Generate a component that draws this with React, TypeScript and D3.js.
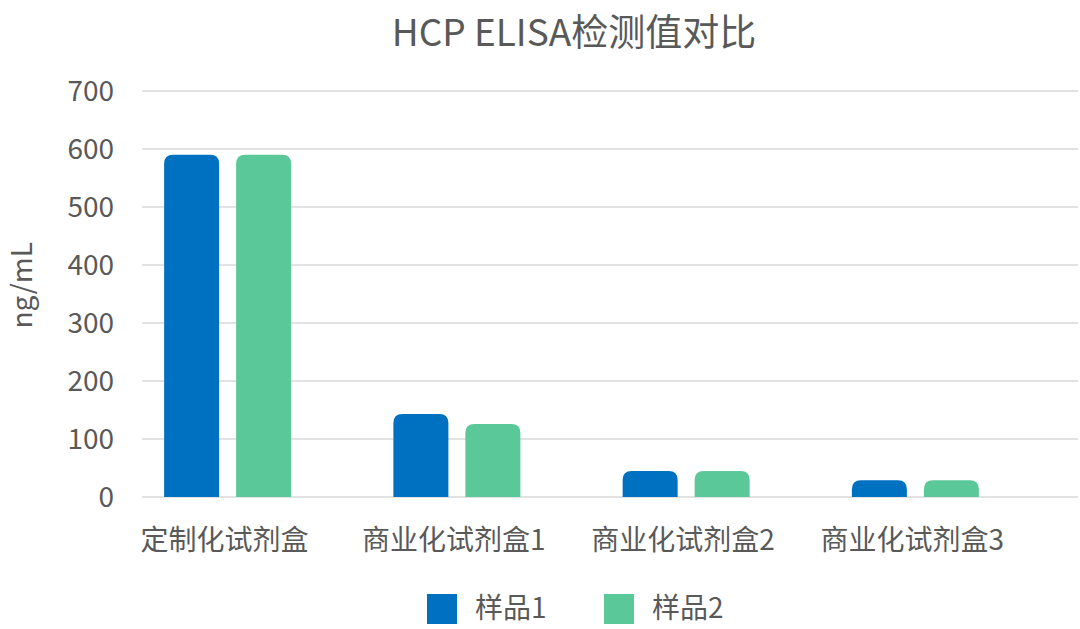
import React from "react";
import * as d3 from "d3";

const categories = ["定制化试剂盒", "商业化试剂盒1", "商业化试剂盒2", "商业化试剂盒3"];
const seriesNames = ["样品1", "样品2"];
const sample1 = [590, 143, 45, 29];
const sample2 = [590, 126, 45, 29];
const yTicks = [0, 100, 200, 300, 400, 500, 600, 700];
const colors = ["#0070C0", "#5BC89A"];

const W = 1080, H = 629;
const FONT = "'Noto Sans CJK SC', 'Noto Sans', sans-serif";
const TXT = "#595959";

function topRounded(x: number, y: number, w: number, h: number, r: number) {
  const rr = Math.min(r, h, w / 2);
  return `M${x},${y + h}V${y + rr}Q${x},${y} ${x + rr},${y}H${x + w - rr}Q${x + w},${y} ${x + w},${y + rr}V${y + h}Z`;
}

export default function App() {
  const y = d3.scaleLinear().domain([0, 700]).range([497, 91]);
  const x0 = d3.scaleBand().domain(categories).range([113, 1030]).paddingInner(0).paddingOuter(0);
  const barW = 55, gap = 17;
  const x1 = d3.scaleOrdinal<string, number>().domain(seriesNames).range([-(barW + gap / 2), gap / 2]);
  const data = [sample1, sample2];
  return (
    <svg width={W} height={H} style={{ position: "absolute", left: 0, top: 0, background: "#fff" }}>
      <text x={574} y={33} dy="0.35em" textAnchor="middle" fontFamily={FONT} fontSize={37} fill={TXT}>HCP ELISA检测值对比</text>
      {yTicks.map((t) => (
        <g key={t}>
          <line x1={142} x2={1078} y1={y(t)} y2={y(t)} stroke="#d9d9d9" strokeWidth={1.5} />
          <text x={114} y={y(t)} dy="0.35em" textAnchor="end" fontFamily={FONT} fontSize={28} fill={TXT}>{t}</text>
        </g>
      ))}
      <text transform={`translate(22,${y(365)}) rotate(-90)`} dy="0.35em" textAnchor="middle" fontFamily={FONT} fontSize={28} fill={TXT}>ng/mL</text>
      {categories.map((c, i) => {
        const cx = (x0(c) as number) + x0.bandwidth() / 2;
        return (
          <g key={c}>
            {seriesNames.map((s, j) => {
              const v = data[j][i];
              const bx = cx + (x1(s) as number);
              return <path key={s} d={topRounded(bx, y(v), barW, y(0) - y(v), 9)} fill={colors[j]} />;
            })}
            <text x={cx - 3} y={540} dy="0.35em" textAnchor="middle" fontFamily={FONT} fontSize={28} fill={TXT}>{c}</text>
          </g>
        );
      })}
      {seriesNames.map((s, j) => {
        const lx = 427 + j * 177;
        return (
          <g key={s}>
            <rect x={lx} y={594} width={30} height={30} fill={colors[j]} />
            <text x={lx + 48} y={608} dy="0.35em" fontFamily={FONT} fontSize={28} fill={TXT}>{s}</text>
          </g>
        );
      })}
    </svg>
  );
}
